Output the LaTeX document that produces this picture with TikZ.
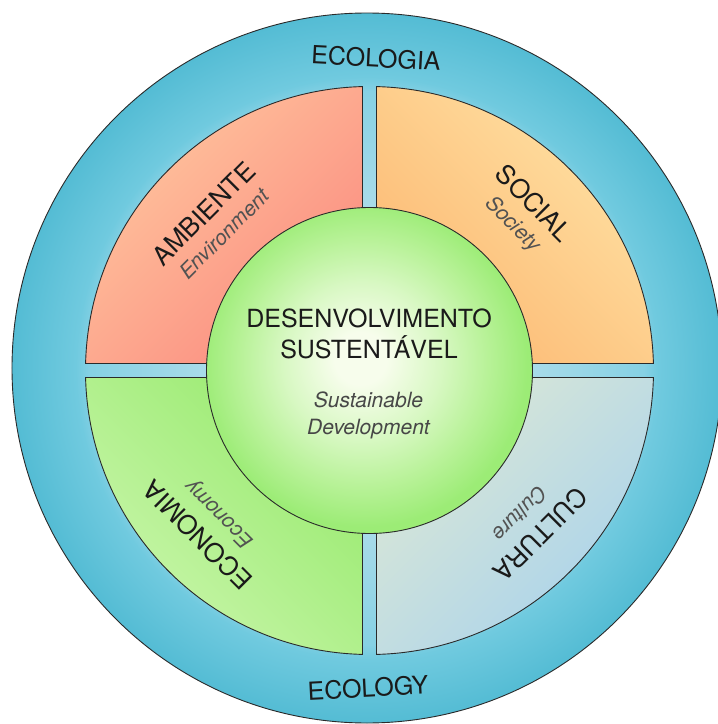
\documentclass[tikz,border=0pt]{standalone}
\usepackage{fontspec}
\setmainfont{TeX Gyre Heros}
\definecolor{edgeblue}{HTML}{54BCD4}
\definecolor{midblue}{HTML}{70CADF}
\definecolor{innblue}{HTML}{86D1E4}
\definecolor{gapblue}{HTML}{A8DBE9}
\definecolor{coreL}{HTML}{F7FDEC}
\definecolor{coreM}{HTML}{D8F8C3}
\definecolor{coreN}{HTML}{B8F298}
\definecolor{coreD}{HTML}{9CEC76}
\definecolor{linec}{HTML}{2A2A2A}
\definecolor{txtc}{HTML}{1A1A1A}
\definecolor{ambA}{HTML}{FFC69E}
\definecolor{ambB}{HTML}{FB8C80}
\definecolor{socA}{HTML}{FFE2A4}
\definecolor{socB}{HTML}{FCB872}
\definecolor{culA}{HTML}{DCE8D6}
\definecolor{culB}{HTML}{A8D2EC}
\definecolor{ecoA}{HTML}{98EA6E}
\definecolor{ecoB}{HTML}{CAF6AC}
\pgfdeclareradialshading{ecoshade}{\pgfpoint{0bp}{0bp}}{color(0bp)=(gapblue); color(11.5bp)=(gapblue); color(19.5bp)=(innblue); color(20.5bp)=(midblue); color(25bp)=(edgeblue); color(50bp)=(edgeblue)}
\pgfdeclareradialshading{coreshade}{\pgfpoint{-1.5bp}{2bp}}{color(0bp)=(coreL); color(4bp)=(coreL); color(12bp)=(coreM); color(19bp)=(coreN); color(25bp)=(coreD); color(50bp)=(coreD)}
\newcommand{\subf}{\fontsize{21}{25}\selectfont\itshape\color{black!68}}
\tikzset{
  outline/.style={draw=linec, line width=0.9pt},
  quadlbl/.style={text=txtc, inner sep=0pt, align=center, text depth=0pt, font=\fontsize{26}{27}\selectfont},
  centerlbl/.style={text=txtc, inner sep=0pt, align=center, text depth=0pt, font=\fontsize{25}{31}\selectfont},
  centersub/.style={text=black!72, inner sep=0pt, align=center, text depth=0pt, font=\fontsize{21}{27}\selectfont\itshape},
  ecolbl/.style={text=txtc, inner sep=0pt, font=\fontsize{25}{30}\selectfont}
}
\begin{document}
\begin{tikzpicture}[x=1pt,y=1pt]
\useasboundingbox (-369.5,-353.5) rectangle (348.5,370.5);
\clip (-369.5,-353.5) rectangle (348.5,370.5);
% outer ecology ring
\path[outline, shading=ecoshade] (-2.5,2.5) circle[radius=355pt];
% quadrants
\shade[outline, shading=axis, top color=ambA, bottom color=ambB, shading angle=45]
  (-7,7) -- (-283.91,7) arc[start angle=178.59, end angle=91.41, radius=284pt] -- cycle;
\shade[outline, shading=axis, top color=socA, bottom color=socB, shading angle=-45]
  (7,7) -- (7,283.91) arc[start angle=88.59, end angle=1.41, radius=284pt] -- cycle;
\shade[outline, shading=axis, top color=culA, bottom color=culB, shading angle=45]
  (7,-7) -- (283.91,-7) arc[start angle=-1.41, end angle=-88.59, radius=284pt] -- cycle;
\shade[outline, shading=axis, top color=ecoA, bottom color=ecoB, shading angle=-45]
  (-7,-7) -- (-7,-283.91) arc[start angle=-91.41, end angle=-178.59, radius=284pt] -- cycle;
% core
\path[outline, shading=coreshade] (0,0) circle[radius=163pt];
% labels
\node[ecolbl, rotate=-3] (ecologia) at (6.5,312.5) {ECOLOGIA};
\node[ecolbl, rotate=3] (ecology) at (-1.5,-317.5) {ECOLOGY};
\node[quadlbl, rotate=45] (amb) at (-156.3,147.5) {AMBIENTE\\{\subf Environment}};
\node[quadlbl, rotate=-45] (soc) at (155.3,158.3) {SOCIAL\\{\subf Society}};
\node[quadlbl, rotate=135] (eco) at (-162.5,-155.5) {ECONOMIA\\{\subf Economy}};
\node[quadlbl, rotate=225] (cul) at (162,-154.5) {CULTURA\\{\subf Culture}};
\node[centerlbl] (des) at (-0.5,37) {DESENVOLVIMENTO\\SUSTENTÁVEL};
\node[centersub] (sust) at (-1,-43) {Sustainable\\Development};
\end{tikzpicture}
\end{document}
